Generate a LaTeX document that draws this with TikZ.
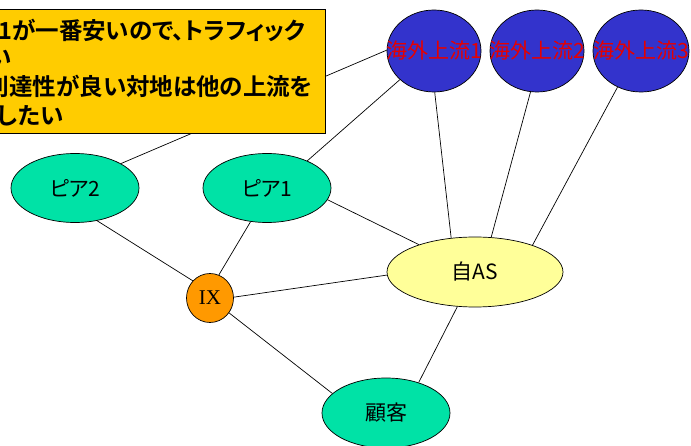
\documentclass[tikz,border=0pt]{standalone}
\usepackage{fontspec}
\setmainfont{Noto Sans CJK JP}[RawFeature=+palt, BoldFont={Noto Sans CJK JP Bold}]
\newfontfamily\ixfont{Liberation Serif}
\usetikzlibrary{shapes.geometric}
\definecolor{ovblue}{RGB}{51,51,204}
\definecolor{nodegreen}{RGB}{0,226,166}
\definecolor{asyellow}{RGB}{255,255,153}
\definecolor{ixorange}{RGB}{255,153,0}
\definecolor{boxgold}{RGB}{255,204,0}
\definecolor{labelred}{RGB}{230,0,0}
\begin{document}
\begin{tikzpicture}[x=1pt,y=-1pt,
  oval/.style={ellipse, draw=black, line width=0.7pt, inner sep=0pt,
    font=\fontsize{21}{24}\selectfont},
  upstream/.style={oval, fill=ovblue, text=labelred, minimum width=94pt, minimum height=82pt},
  peer/.style={oval, fill=nodegreen, minimum width=128pt, minimum height=69pt},
  link/.style={draw=black, line width=0.7pt},
  boxline/.style={anchor=base west, inner sep=0pt, font=\fontsize{23.5}{27}\selectfont\bfseries}]
\useasboundingbox (0,0) rectangle (691,446);
\clip (0,0) rectangle (691,446);
% nodes
\node[upstream] (o1) at (434,51) {\makebox[0pt]{海外上流1}};
\node[upstream] (o2) at (537,51) {\makebox[0pt]{海外上流2}};
\node[upstream, minimum width=96pt] (o3) at (641,51) {\makebox[0pt]{海外上流3}};
\node[peer] (p2) at (75,188) {ピア2};
\node[peer] (p1) at (267,188) {ピア1};
\node[oval, fill=ixorange, minimum width=47pt, minimum height=49pt,
  font=\fontsize{21}{24}\selectfont\ixfont] (ix) at (210,298) {\makebox[0pt]{IX}};
\node[oval, fill=asyellow, minimum width=176pt, minimum height=70pt] (as) at (475,272) {自AS};
\node[peer, minimum height=70pt] (cu) at (386,413) {顧客};
% connectors
\draw[link] (p2.28) -- (o1.179);
\draw[link] (p1.34) -- (o1.-140);
\draw[link] (as.125) -- (o1.-89);
\draw[link] (as.65) -- (o2.-99);
\draw[link] (as.25) -- (o3.-123);
\draw[link] (p1.-11) -- (as.154);
\draw[link] (ix.2) -- (as.-178);
\draw[link] (p1.-116) -- (ix.69);
\draw[link] (p2.-56) -- (ix.135);
\draw[link] (ix.-38) -- (cu.160);
\draw[link] (as.-117) -- (cu.43);
% callout box
\node[draw=black, line width=0.7pt, fill=boxgold, inner sep=0pt,
  minimum width=350pt, minimum height=124pt] (note) at (150,71) {};
\node[boxline] (t1) at (-2,40) {1が一番安いので、トラフィック};
\node[boxline] (t2) at (-12,67) {い};
\node[boxline] (t3) at (-14.5,96) {到達性が良い対地は他の上流を};
\node[boxline] (t4) at (-3,125) {したい};
\end{tikzpicture}
\end{document}
